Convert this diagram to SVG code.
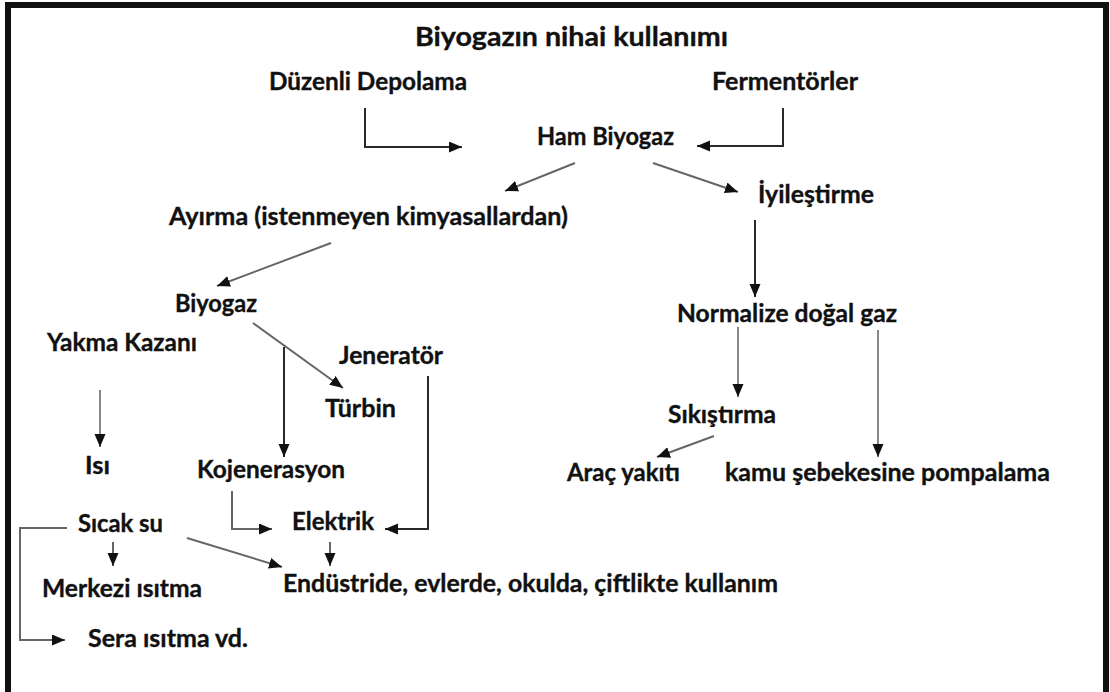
<svg xmlns="http://www.w3.org/2000/svg" width="1110" height="692" viewBox="0 0 1110 692">
<style>
.t{font-family:Lato,"Open Sans","Liberation Sans",sans-serif;font-weight:700;font-size:24px;fill:#111;stroke:#111;stroke-width:0.35}
.title{font-size:27px}
.c{fill:none;stroke-width:2}
.dk{stroke:#2a2a2a}
.gr{stroke:#666}
.lg{stroke:#888}
</style>
<defs>
<marker id="ah" markerUnits="userSpaceOnUse" markerWidth="14" markerHeight="12" refX="13" refY="5.5" orient="auto">
<path d="M0,0 L13,5.5 L0,11 z" fill="#111"/>
</marker>
</defs>
<rect x="0" y="0" width="1110" height="692" fill="#fff"/>
<rect x="8" y="5" width="1098" height="720" fill="none" stroke="#111" stroke-width="6"/>

<g id="connectors">
<path class="c dk" d="M365,108 V147 H462" marker-end="url(#ah)"/>
<path class="c dk" d="M783,108 V146 H697" marker-end="url(#ah)"/>
<path class="c gr" d="M575,163 L505,191" marker-end="url(#ah)"/>
<path class="c gr" d="M653,163 L738,192" marker-end="url(#ah)"/>
<path class="c dk" d="M755,220 V297" marker-end="url(#ah)"/>
<path class="c gr" d="M331,243 L217,286" marker-end="url(#ah)"/>
<path class="c gr" d="M253,323 L343,388" marker-end="url(#ah)"/>
<path class="c dk" d="M284,347 V457" marker-end="url(#ah)"/>
<path class="c dk" d="M428,376 V529 H385" marker-end="url(#ah)"/>
<path class="c gr" d="M232,491 V529 H272" marker-end="url(#ah)"/>
<path class="c lg" d="M100,390 V447" marker-end="url(#ah)"/>
<path class="c gr" d="M67,528 H20 V640 H65" marker-end="url(#ah)"/>
<path class="c gr" d="M113,542 V566" marker-end="url(#ah)"/>
<path class="c gr" d="M187,538 L282,567" marker-end="url(#ah)"/>
<path class="c gr" d="M330,542 V566" marker-end="url(#ah)"/>
<path class="c lg" d="M738,327 V397" marker-end="url(#ah)"/>
<path class="c lg" d="M878,330 V457" marker-end="url(#ah)"/>
<path class="c gr" d="M714,436 L657,457" marker-end="url(#ah)"/>
</g>

<g id="title"><text class="t title" x="415" y="46" textLength="313" lengthAdjust="spacingAndGlyphs">Biyogazın nihai kullanımı</text></g>
<g id="duzenli"><text class="t" x="269" y="90" textLength="198" lengthAdjust="spacingAndGlyphs">Düzenli Depolama</text></g>
<g id="fermentorler"><text class="t" x="712" y="90" textLength="146" lengthAdjust="spacingAndGlyphs">Fermentörler</text></g>
<g id="ham"><text class="t" x="537" y="145" textLength="137" lengthAdjust="spacingAndGlyphs">Ham Biyogaz</text></g>
<g id="iyilestirme"><text class="t" x="758" y="203" textLength="116" lengthAdjust="spacingAndGlyphs">İyileştirme</text></g>
<g id="ayirma"><text class="t" x="169" y="225" textLength="399" lengthAdjust="spacingAndGlyphs">Ayırma (istenmeyen kimyasallardan)</text></g>
<g id="biyogaz"><text class="t" x="175" y="312" textLength="82" lengthAdjust="spacingAndGlyphs">Biyogaz</text></g>
<g id="yakma"><text class="t" x="47" y="351" textLength="150" lengthAdjust="spacingAndGlyphs">Yakma Kazanı</text></g>
<g id="jenerator"><text class="t" x="339" y="364" textLength="104" lengthAdjust="spacingAndGlyphs">Jeneratör</text></g>
<g id="turbin"><text class="t" x="325" y="417" textLength="71" lengthAdjust="spacingAndGlyphs">Türbin</text></g>
<g id="isi"><text class="t" x="85" y="474" textLength="25" lengthAdjust="spacingAndGlyphs">Isı</text></g>
<g id="kojenerasyon"><text class="t" x="197" y="478" textLength="148" lengthAdjust="spacingAndGlyphs">Kojenerasyon</text></g>
<g id="elektrik"><text class="t" x="292" y="530" textLength="82" lengthAdjust="spacingAndGlyphs">Elektrik</text></g>
<g id="sicaksu"><text class="t" x="78" y="532" textLength="85" lengthAdjust="spacingAndGlyphs">Sıcak su</text></g>
<g id="merkezi"><text class="t" x="42" y="597" textLength="160" lengthAdjust="spacingAndGlyphs">Merkezi ısıtma</text></g>
<g id="endustride"><text class="t" x="283" y="592" textLength="495" lengthAdjust="spacingAndGlyphs">Endüstride, evlerde, okulda, çiftlikte kullanım</text></g>
<g id="sera"><text class="t" x="88" y="647" textLength="160" lengthAdjust="spacingAndGlyphs">Sera ısıtma vd.</text></g>
<g id="normalize"><text class="t" x="677" y="322" textLength="220" lengthAdjust="spacingAndGlyphs">Normalize doğal gaz</text></g>
<g id="sikistirma"><text class="t" x="668" y="423" textLength="108" lengthAdjust="spacingAndGlyphs">Sıkıştırma</text></g>
<g id="arac"><text class="t" x="567" y="481" textLength="113" lengthAdjust="spacingAndGlyphs">Araç yakıtı</text></g>
<g id="kamu"><text class="t" x="725" y="481" textLength="325" lengthAdjust="spacingAndGlyphs">kamu şebekesine pompalama</text></g>
</svg>
